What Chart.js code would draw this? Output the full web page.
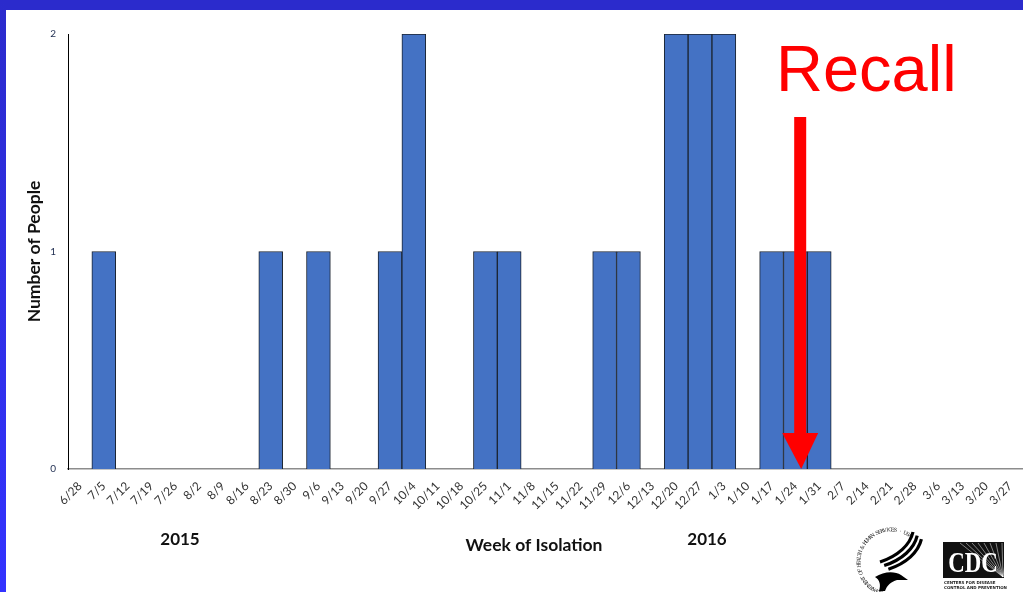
<!DOCTYPE html>
<html>
<head>
<meta charset="utf-8">
<title>Week of Isolation</title>
<script src="https://cdn.jsdelivr.net/npm/chart.js@4.4.1/dist/chart.umd.min.js"></script>
<style>
    html, body { margin: 0; padding: 0; background: #fff; overflow: hidden; }
    #wrap { position: relative; width: 1023px; height: 592px; }
    #chart { position: absolute; left: 0; top: 0; }
    .frame-top { position: absolute; left: 0; top: 0; width: 1023px; height: 10px; background: #2b2bcc; }
    .frame-left { position: absolute; left: 0; top: 0; width: 6px; height: 592px;
        background: linear-gradient(#2b2bcc, #3333ff); }
</style>
</head>
<body>
<div id="wrap">
    <canvas id="chart" width="1023" height="592"></canvas>
    <div class="frame-top"></div>
    <div class="frame-left"></div>
</div>
<script>
// Weeks (week starting date), July 2015 - March 2016
const weekLabels = ['6/28', '7/5', '7/12', '7/19', '7/26', '8/2', '8/9', '8/16', '8/23', '8/30',
    '9/6', '9/13', '9/20', '9/27', '10/4', '10/11', '10/18', '10/25', '11/1', '11/8',
    '11/15', '11/22', '11/29', '12/6', '12/13', '12/20', '12/27', '1/3', '1/10', '1/17',
    '1/24', '1/31', '2/7', '2/14', '2/21', '2/28', '3/6', '3/13', '3/20', '3/27'];

// People with isolates per week
const peopleCounts = [0, 1, 0, 0, 0, 0, 0, 0, 1, 0,
    1, 0, 0, 1, 2, 0, 0, 1, 1, 0,
    0, 0, 1, 1, 0, 2, 2, 2, 0, 1,
    1, 1, 0, 0, 0, 0, 0, 0, 0, 0];

const yTicks = [0, 1, 2];

// Recall date sits a little after the 1/24 week (category index, fractional)
const recallIndex = 30.2;

const COLORS = {
    bar: '#4472c4',
    barEdge: '#1b2431',
    recall: '#ff0000',
    text: '#111111',
    tick: '#333333'
};

// Recall arrow + label, and the year / axis captions under the ticks
const annotations = {
    id: 'annotations',
    afterDatasetsDraw(chart) {
        const ctx = chart.ctx;
        const x = chart.scales.x;
        const y = chart.scales.y;
        const ax = x.getPixelForValue(recallIndex);
        const base = y.getPixelForValue(0);

        ctx.save();
        ctx.fillStyle = COLORS.recall;
        ctx.fillRect(ax - 6, 117, 12, base - 36 - 117);
        ctx.beginPath();
        ctx.moveTo(ax - 18, base - 36);
        ctx.lineTo(ax + 18, base - 36);
        ctx.lineTo(ax + 1, base);
        ctx.closePath();
        ctx.fill();

        ctx.font = '65px "Liberation Sans", Arial, sans-serif';
        ctx.textBaseline = 'alphabetic';
        ctx.textAlign = 'left';
        ctx.fillText('Recall', 776, 91);
        ctx.restore();
    },
    afterDraw(chart) {
        const ctx = chart.ctx;
        ctx.save();
        ctx.fillStyle = COLORS.text;
        ctx.textAlign = 'center';
        ctx.textBaseline = 'middle';
        ctx.font = 'bold 17px Lato, sans-serif';
        ctx.fillText('2015', 180, 540);
        ctx.fillText('2016', 707, 540);
        ctx.font = 'bold 17.5px Lato, sans-serif';
        ctx.fillText('Week of Isolation', 534, 545);
        ctx.restore();
        drawLogos(ctx);
    }
};

function drawLogos(ctx) {
    ctx.save();
    // HHS seal: circular lettering running up the left side and over the top
    const cx = 891, cy = 562, r = 32;
    const seal = 'DEPARTMENT OF HEALTH & HUMAN SERVICES \u00B7 USA';
    ctx.fillStyle = '#111';
    ctx.font = '5px "DejaVu Serif", serif';
    ctx.textAlign = 'center';
    ctx.textBaseline = 'middle';
    const start = Math.PI * 0.6, end = Math.PI * 1.7;
    for (let i = 0; i < seal.length; i++) {
        const a = start + (end - start) * i / (seal.length - 1);
        ctx.save();
        ctx.translate(cx + r * Math.cos(a), cy + r * Math.sin(a));
        ctx.rotate(a + Math.PI / 2);
        ctx.fillText(seal[i], 0, 0);
        ctx.restore();
    }

    // eagle: three sweeping wing stripes and the head
    ctx.strokeStyle = '#000';
    ctx.lineCap = 'butt';
    ctx.lineWidth = 3.2;
    for (let k = 0; k < 3; k++) {
        const dx = k * 4.2, dy = k * 3.6;
        ctx.beginPath();
        ctx.moveTo(913 + dx, 532 + dy);
        ctx.bezierCurveTo(910 + dx, 545 + dy, 898 + dx, 556 + dy, 880 + dx, 562 + dy);
        ctx.stroke();
    }
    ctx.fillStyle = '#000';
    ctx.beginPath();
    ctx.moveTo(875, 577);
    ctx.bezierCurveTo(884, 571, 895, 571, 901, 575);
    ctx.lineTo(908, 580);
    ctx.lineTo(897, 580);
    ctx.bezierCurveTo(891, 582, 887, 585, 885, 591);
    ctx.lineTo(879, 591);
    ctx.bezierCurveTo(881, 585, 880, 580, 875, 577);
    ctx.closePath();
    ctx.fill();

    // CDC box with rays
    ctx.fillStyle = '#111';
    ctx.fillRect(943, 542, 61, 36);
    ctx.strokeStyle = 'rgba(255,255,255,0.8)';
    ctx.lineWidth = 0.6;
    for (let i = 0; i < 9; i++) {
        ctx.beginPath();
        ctx.moveTo(1003, 577);
        ctx.lineTo(960 + i * 6, 543);
        ctx.stroke();
    }
    ctx.fillStyle = '#fff';
    ctx.font = 'bold 27px "Liberation Serif", serif';
    ctx.textAlign = 'center';
    ctx.textBaseline = 'alphabetic';
    ctx.save();
    ctx.translate(973, 572);
    ctx.scale(0.85, 1.1);
    ctx.fillText('CDC', 0, 0);
    ctx.restore();
    ctx.fillStyle = '#222';
    ctx.font = 'bold 4px "DejaVu Sans", sans-serif';
    ctx.textAlign = 'left';
    ctx.fillText('CENTERS FOR DISEASE', 944, 584);
    ctx.fillText('CONTROL AND PREVENTION', 944, 589);
    ctx.restore();
}

const chart = new Chart(document.getElementById('chart'), {
    type: 'bar',
    data: {
        labels: weekLabels,
        datasets: [{
            label: 'Number of People',
            data: peopleCounts,
            backgroundColor: COLORS.bar,
            borderColor: COLORS.barEdge,
            borderWidth: 1,
            barPercentage: 1,
            categoryPercentage: 1
        }]
    },
    options: {
        responsive: false,
        animation: false,
        devicePixelRatio: 1,
        layout: { padding: { left: 0, top: 34, right: 1, bottom: 0 } },
        plugins: {
            legend: { display: false },
            tooltip: { enabled: false }
        },
        scales: {
            x: {
                grid: { display: false, drawTicks: false },
                border: { display: true, color: '#8c8c8c', width: 1.5 },
                ticks: {
                    autoSkip: false,
                    maxRotation: 45,
                    minRotation: 45,
                    padding: 10,
                    color: COLORS.tick,
                    font: { family: 'Lato', size: 12 }
                },
                afterFit(scale) {
                    scale.height = 123;
                    scale.paddingLeft = 0;
                    scale.paddingRight = 0;
                }
            },
            y: {
                min: 0,
                max: 2,
                grid: { display: false, drawTicks: false },
                border: { display: true, color: '#000', width: 1 },
                afterBuildTicks(scale) { scale.ticks = yTicks.map(v => ({ value: v })); },
                ticks: {
                    padding: 12,
                    color: '#1f2d50',
                    font: { family: 'Lato', size: 10 }
                },
                title: {
                    display: true,
                    text: 'Number of People',
                    color: COLORS.text,
                    font: { family: 'Lato', size: 17.5, weight: 'bold' },
                    padding: { top: 24, bottom: 0 }
                },
                afterFit(scale) { scale.width = 68; }
            }
        }
    },
    plugins: [annotations]
});
</script>
</body>
</html>
